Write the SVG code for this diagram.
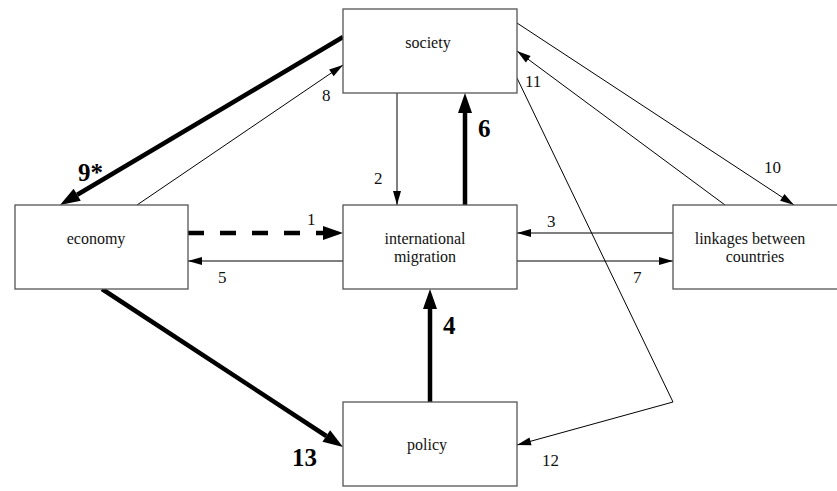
<svg xmlns="http://www.w3.org/2000/svg" width="837" height="491" viewBox="0 0 837 491">
<style>
.box{fill:#fff;stroke:#555;stroke-width:1.3}
.nt{font-family:'Liberation Serif','Times New Roman','DejaVu Serif',serif;font-size:16px;fill:#111;text-anchor:middle}
.thin{fill:none;stroke:#000;stroke-width:1}
.thick{fill:none;stroke:#000;stroke-width:4.5}
.dash{fill:none;stroke:#000;stroke-width:4.5;stroke-dasharray:16 16}
.lb{font-family:'Liberation Serif','Times New Roman','DejaVu Serif',serif;font-size:17px;fill:#111}
.lbb{font-family:'Liberation Serif','Times New Roman','DejaVu Serif',serif;font-size:25px;font-weight:bold;fill:#000}
</style>
<defs>
<marker id="ah" markerUnits="userSpaceOnUse" markerWidth="16" markerHeight="10" refX="14" refY="4" orient="auto" overflow="visible">
<path d="M0,0 L14,4 L0,8 z" fill="#000"/>
</marker>
<marker id="ahb" markerUnits="userSpaceOnUse" markerWidth="22" markerHeight="16" refX="0" refY="7" orient="auto" overflow="visible">
<path d="M0,0 L20,7 L0,14 z" fill="#000"/>
</marker>
</defs>
<rect width="837" height="491" fill="#fff"/>
<g id="connectors">
<path class="dash" d="M188,233 H323" marker-end="url(#ahb)"/>
<path class="thin" d="M343,261 H188" marker-end="url(#ah)"/>
<path class="thin" d="M673,233 H517" marker-end="url(#ah)"/>
<path class="thin" d="M517,261 H673" marker-end="url(#ah)"/>
<path class="thin" d="M397,93 V205" marker-end="url(#ah)"/>
<path class="thick" d="M465,205 V113" marker-end="url(#ahb)"/>
<path class="thick" d="M430,402 V309" marker-end="url(#ahb)"/>
<path class="thick" d="M343,37 L77.2,194.8" marker-end="url(#ahb)"/>
<path class="thin" d="M137,205 L343,65" marker-end="url(#ah)"/>
<path class="thin" d="M517,23 L794,205" marker-end="url(#ah)"/>
<path class="thin" d="M725,205 L517,51" marker-end="url(#ah)"/>
<path class="thin" d="M517,78 L673,402 L517,445" marker-end="url(#ah)"/>
<path class="thick" d="M102,289 L326.3,436" marker-end="url(#ahb)"/>
<text class="lb" x="307" y="225">1</text>
<text class="lb" x="374" y="184">2</text>
<text class="lb" x="547" y="227">3</text>
<text class="lbb" x="443" y="334">4</text>
<text class="lb" x="218" y="283">5</text>
<text class="lbb" x="478" y="137">6</text>
<text class="lb" x="633" y="283">7</text>
<text class="lb" x="322" y="101">8</text>
<text class="lbb" x="78" y="181">9*</text>
<text class="lb" x="764" y="173">10</text>
<text class="lb" x="525" y="87">11</text>
<text class="lb" x="542" y="466">12</text>
<text class="lbb" x="292" y="466">13</text>
</g>
<g id="society">
<rect class="box" x="343" y="9" width="174" height="84"/>
<text class="nt" x="428" y="48">society</text>
</g>
<g id="economy">
<rect class="box" x="15" y="205" width="173" height="84"/>
<text class="nt" x="96" y="244">economy</text>
</g>
<g id="migration">
<rect class="box" x="343" y="205" width="174" height="84"/>
<text class="nt" x="425" y="244">international</text>
<text class="nt" x="425" y="262">migration</text>
</g>
<g id="linkages">
<rect class="box" x="673" y="205" width="170" height="84"/>
<text class="nt" x="750" y="244">linkages between</text>
<text class="nt" x="755" y="262">countries</text>
</g>
<g id="policy">
<rect class="box" x="343" y="402" width="174" height="84"/>
<text class="nt" x="427" y="450">policy</text>
</g>
</svg>
